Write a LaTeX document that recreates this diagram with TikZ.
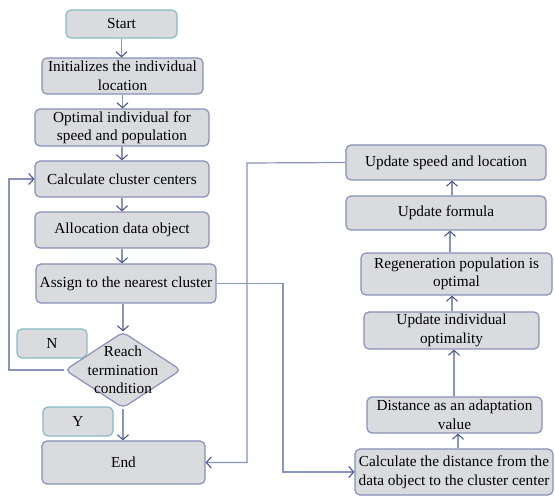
\documentclass[tikz,border=0pt]{standalone}
\usepackage{fontspec}
\setmainfont{Liberation Serif}
\usetikzlibrary{shapes.geometric,arrows.meta}
\definecolor{boxfill}{HTML}{DADBDE}
\definecolor{boxdraw}{HTML}{8890B8}
\definecolor{tealdraw}{HTML}{86BAC4}
\definecolor{linecol}{HTML}{8A93BC}
\definecolor{tipcol}{HTML}{3E4C8E}
\tikzset{
  box/.style={draw=boxdraw, fill=boxfill, line width=1.2pt, rounded corners=5pt,
    align=center, inner sep=1pt, font=\fontsize{15.3}{18.5}\selectfont},
  tbox/.style={box, draw=tealdraw},
  dec/.style={box, diamond, aspect=1.53, inner sep=0pt},
  conn/.style={draw=linecol, line width=1.2pt},
  arr/.style={conn, -{Straight Barb[length=5pt,width=11pt,color=tipcol,line width=1pt]}}
}
\begin{document}
\begin{tikzpicture}[x=1pt,y=-1pt]
\useasboundingbox (0,0) rectangle (555,497);
\fill[white] (0,0) rectangle (555,497);
% left column
\node[tbox, minimum width=111pt, minimum height=28pt] (start) at (121.5,24) {Start};
\node[box, minimum width=161pt, minimum height=36pt] (init) at (122.5,76) {Initializes the individual\\location};
\node[box, minimum width=174pt, minimum height=37pt] (opt) at (122,127.5) {Optimal individual for\\speed and population};
\node[box, minimum width=174pt, minimum height=36pt] (calc) at (122,179) {Calculate cluster centers};
\node[box, minimum width=174pt, minimum height=36pt] (alloc) at (122,230) {Allocation data object};
\node[box, minimum width=180pt, minimum height=39pt] (assign) at (126,283.5) {Assign to the nearest cluster};
\node[tbox, minimum width=70pt, minimum height=29pt] (n) at (52,343.5) {N};
\node[tbox, minimum width=70pt, minimum height=29pt] (y) at (78,421.5) {Y};
\node[dec, minimum width=116pt, minimum height=76pt] (cond) at (123,370) {};
\node[align=center, font=\fontsize{15.3}{18.5}\selectfont] (condtext) at (cond.center) {Reach\\termination\\condition};
\node[box, minimum width=163pt, minimum height=43pt] (end) at (123.5,462.5) {End};
% right column
\node[box, minimum width=200pt, minimum height=35pt] (speed) at (446,162.5) {Update speed and location};
\node[box, minimum width=200pt, minimum height=34pt] (formula) at (446,213) {Update formula};
\node[box, minimum width=191pt, minimum height=42pt] (regen) at (456.5,274) {Regeneration population is\\optimal};
\node[box, minimum width=175pt, minimum height=37pt] (indiv) at (451.5,330.5) {Update individual\\optimality};
\node[box, minimum width=175pt, minimum height=36pt] (dist) at (454.5,415) {Distance as an adaptation\\value};
\node[box, minimum width=198pt, minimum height=46pt] (cd) at (454,472) {Calculate the distance from the\\data object to the cluster center};
% coordinates
\coordinate (fb) at (9,370);
\coordinate (r1) at (283,283.5);
\coordinate (r2) at (247,163);
% left connectors
\draw[arr] (start.south) -- (start.south |- init.north);
\draw[arr] (init.south) -- (init.south |- opt.north);
\draw[arr] (opt.south) -- (opt.south |- calc.north);
\draw[arr] (calc.south) -- (calc.south |- alloc.north);
\draw[arr] (alloc.south) -- (alloc.south |- assign.north);
\draw[arr] (assign.south -| cond.north) -- (cond.north);
\draw[arr] (cond.south) -- (cond.south |- end.north);
\draw[arr] (cond.west) -- (fb) |- (calc.west);
\draw[arr] (assign.east) -- (r1) |- (cd.west);
\draw[arr] (speed.west) -- (r2) |- (end.east);
% right connectors
\draw[arr] (cd.north -| 458,0) -- (dist.south -| 458,0);
\draw[arr] (dist.north -| 454,0) -- (indiv.south -| 454,0);
\draw[arr] (indiv.north -| 452,0) -- (regen.south -| 452,0);
\draw[arr] (regen.north -| 450,0) -- (formula.south -| 450,0);
\draw[arr] (formula.north -| 452,0) -- (speed.south -| 452,0);
\end{tikzpicture}
\end{document}
